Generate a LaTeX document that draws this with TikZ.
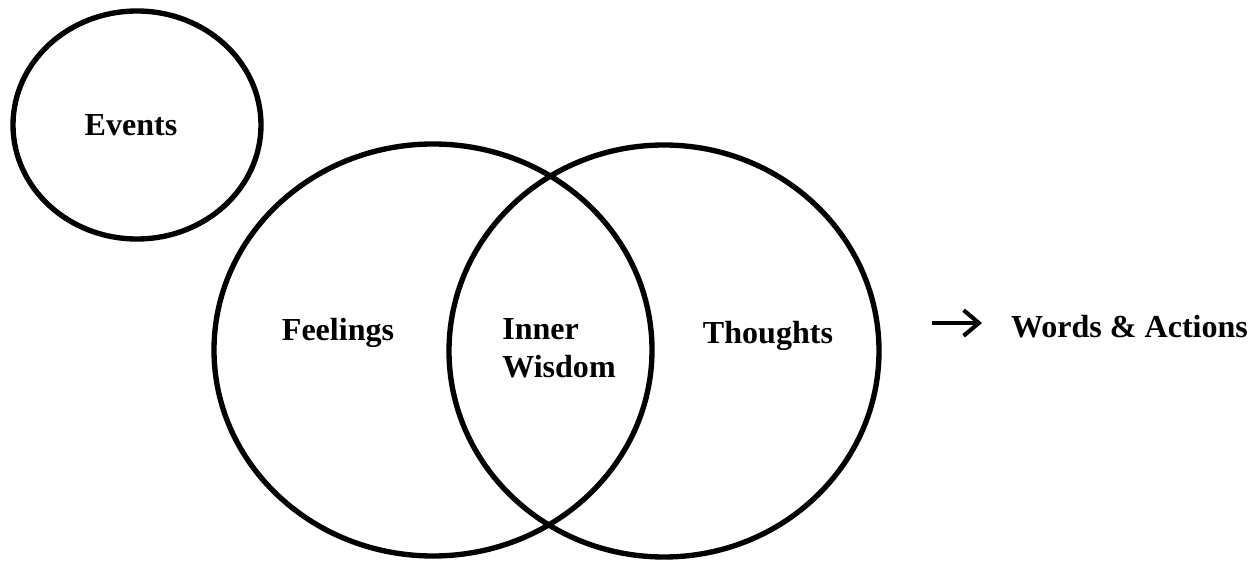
\documentclass[tikz,border=0pt]{standalone}
\usepackage{fontspec}
\setmainfont{Liberation Serif}
\usetikzlibrary{arrows.meta,shapes.geometric,positioning}

\begin{document}
\begin{tikzpicture}[
    ring/.style={ellipse, draw, line width=3.8pt, inner sep=0pt},
    word/.style={font=\fontsize{22.8}{27}\selectfont\bfseries, inner sep=2pt}
  ]
  \useasboundingbox (0,0) rectangle (31.5,14.025);

  % Circles
  \node[ring, minimum width=6.2cm, minimum height=5.7cm] (events) at (3.425,10.9) {};
  \node[ring, minimum width=10.95cm, minimum height=10.3cm] (feelings) at (10.825,5.275) {};
  \node[ring, minimum width=10.75cm, minimum height=10.3cm] (thoughts) at (16.6,5.25) {};

  % Labels
  \node[word] (eventslbl) at (3.275,10.9) {Events};
  \node[word] (feelingslbl) at (8.45,5.7) {Feelings};
  \node[word, anchor=west, align=left] (wisdom) at (12.48,5.325) {Inner\\Wisdom};
  \node[word] (thoughtslbl) at (19.2,5.625) {Thoughts};
  \node[word, anchor=west] (words) at (25.2,5.85) {Words \& Actions};

  % Output arrow
  \coordinate (arrowtail) at (23.3,5.95);
  \draw[-{Straight Barb[length=0.38cm, width=0.64cm]}, line width=2.9pt, shorten >=0.65cm]
    (arrowtail) -- (words.west |- arrowtail);
\end{tikzpicture}
\end{document}
